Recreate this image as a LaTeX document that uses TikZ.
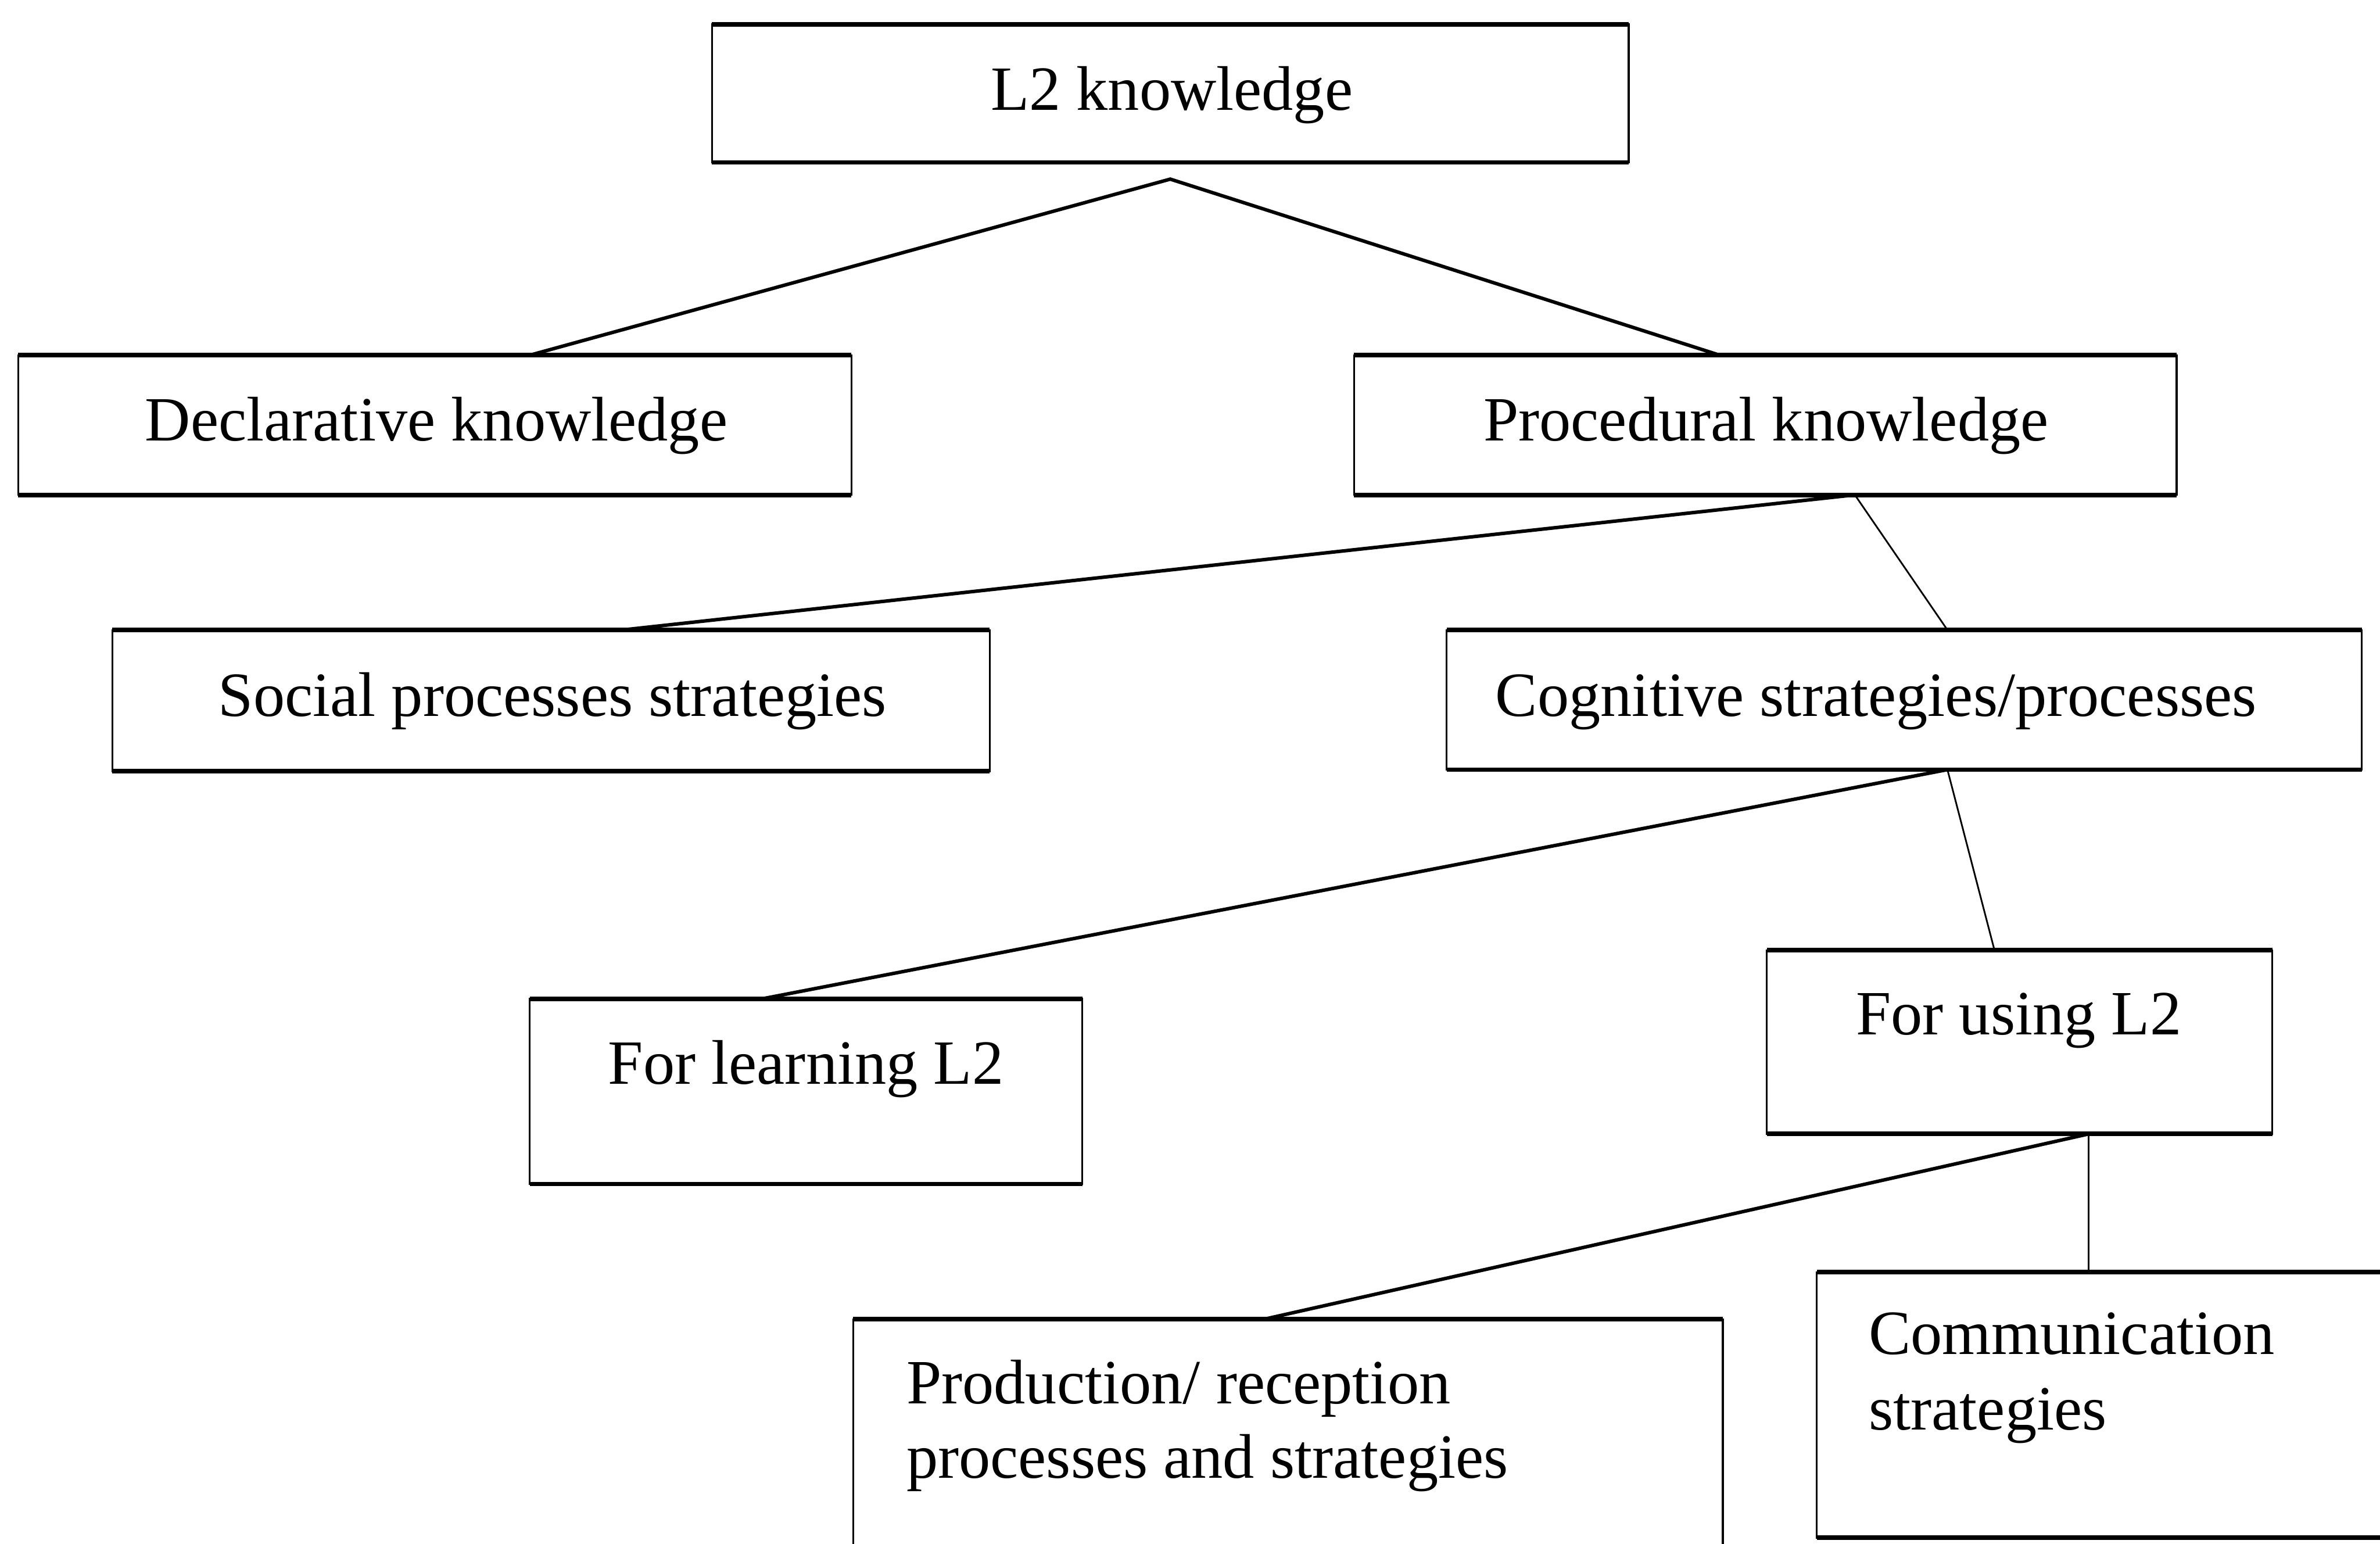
\documentclass[tikz,border=0pt]{standalone}
\usepackage{fontspec}
\setmainfont{Liberation Serif}
\usetikzlibrary{calc}
\begin{document}
\begin{tikzpicture}[x=1pt,y=-1pt,
  box/.style={draw, line width=1.2pt, inner sep=0pt, outer sep=0pt},
  rim/.style={line width=3pt},
  txt/.style={font=\fontsize{41.5}{49}\selectfont, inner sep=0pt, anchor=base},
  ltxt/.style={txt, anchor=base west},
  thick link/.style={line width=2.3pt},
  thin link/.style={line width=1.1pt}]
\useasboundingbox (0,0) rectangle (1568,1017);
\fill[white] (0,0) rectangle (1568,1017);
\clip (0,0) rectangle (1568,1017);

% boxes
\node[box, minimum width=604pt, minimum height=91pt]  (l2)    at (771,61.5)    {};
\node[box, minimum width=549pt, minimum height=92pt]  (decl)  at (286.5,280)   {};
\node[box, minimum width=542pt, minimum height=92pt]  (proc)  at (1163,280)    {};
\node[box, minimum width=578pt, minimum height=93pt]  (soc)   at (363,461.5)   {};
\node[box, minimum width=603pt, minimum height=92pt]  (cog)   at (1254.5,461)  {};
\node[box, minimum width=364pt, minimum height=122pt] (learn) at (531,719)     {};
\node[box, minimum width=333pt, minimum height=121pt] (use)   at (1330.5,686.5){};
\node[box, minimum width=573pt, minimum height=231pt] (prod)  at (848.5,984.5) {};
\node[box, minimum width=453pt, minimum height=175pt] (comm)  at (1423.5,925.5){};

% heavier top and bottom rules of each box
\foreach \n in {l2,decl,proc,soc,cog,learn,use,prod,comm}
  \draw[rim] (\n.north west) -- (\n.north east) (\n.south west) -- (\n.south east);

% labels
\node[txt] (l2t)    at (772,72.5)    {L2 knowledge};
\node[txt] (declt)  at (287.5,290.5) {Declarative knowledge};
\node[txt] (proct)  at (1163.5,290.5){Procedural knowledge};
\node[txt] (soct)   at (364,472)     {Social processes strategies};
\node[txt] (cogt)   at (1236,472)    {Cognitive strategies/processes};
\node[txt] (learnt) at (531,714)     {For learning L2};
\node[txt] (uset)   at (1330,681.5)  {For using L2};
\node[ltxt] (prodt1) at (597,924.5)  {Production/ reception};
\node[ltxt] (prodt2) at (597,973.5)  {processes and strategies};
\node[ltxt] (commt1) at (1231,892)   {Communication};
\node[ltxt] (commt2) at (1231,942)   {strategies};

% connectors
\coordinate (apex) at ($(l2.south)+(0,11)$);
\draw[thick link] ($(decl.north west)+(337,0)$) -- (apex) -- ($(proc.north west)+(241,0)$);

\coordinate (procfoot) at ($(proc.south west)+(330,0)$);
\draw[thick link] (procfoot) -- ($(soc.north west)+(336,0)$);
\draw[thin link]  (procfoot) -- ($(cog.north west)+(330,0)$);

\coordinate (cogfoot) at ($(cog.south west)+(330,0)$);
\draw[thick link] (cogfoot) -- ($(learn.north west)+(153,0)$);
\draw[thin link]  (cogfoot) -- ($(use.north west)+(150,0)$);

\coordinate (usefoot) at ($(use.south west)+(212,0)$);
\draw[thick link] (usefoot) -- ($(prod.north west)+(271,0)$);
\draw[thin link]  (usefoot) -- ($(comm.north west)+(179,0)$);
\end{tikzpicture}
\end{document}
